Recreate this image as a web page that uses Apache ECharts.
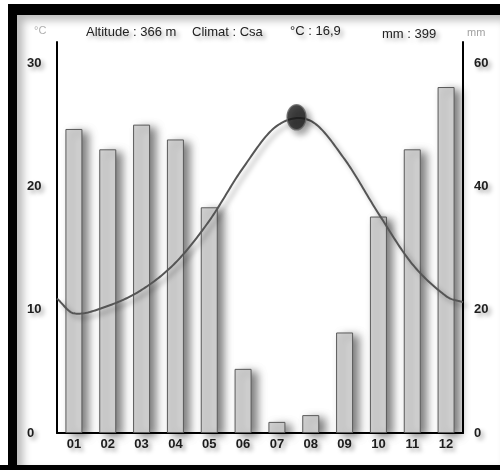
<!DOCTYPE html>
<html>
<head>
<meta charset="utf-8">
<script src="https://cdn.jsdelivr.net/npm/echarts@6/dist/echarts.min.js"></script>
<style>
  html, body { margin: 0; padding: 0; background: #fff; }
  #wrap { position: relative; width: 500px; height: 470px; overflow: hidden; background: #fff; }
  #chart { position: absolute; left: 0; top: 0; width: 500px; height: 470px; }
  #shade { position: absolute; left: 17px; top: 15px; width: 483px; height: 450px;
           box-shadow: inset 6px 5px 8px rgba(0,0,0,0.28); pointer-events: none; }
  .frame { position: absolute; background: #000; }
</style>
</head>
<body>
<div id="wrap">
  <div id="chart"></div>
  <div id="shade"></div>
  <div class="frame" style="left:8px;top:4px;width:492px;height:11px"></div>
  <div class="frame" style="left:8px;top:4px;width:9px;height:466px"></div>
  <div class="frame" style="left:0;top:465px;width:500px;height:5px"></div>
</div>
<script>
// Climate diagram: monthly precipitation (bars, mm) and mean temperature (curve, °C)
const months = ['01', '02', '03', '04', '05', '06', '07', '08', '09', '10', '11', '12'];
const precipitation = [49.3, 46.0, 50.0, 47.6, 36.6, 10.4, 1.8, 2.9, 16.3, 35.1, 46.0, 56.1];
const temperature = [9.7, 10.3, 11.6, 13.8, 17.2, 21.5, 24.9, 25.3, 22.2, 17.8, 13.7, 11.1];
// curve values at the left and right plot edges (winter wrap-around)
const tempEdges = [10.9, 10.6];
// yearly maximum of the temperature curve: [month position, °C]
const tempPeak = [7.58, 25.6];
const tempTicks = [0, 10, 20, 30];
const precTicks = [0, 20, 40, 60];
const headerTexts = ['Altitude : 366 m', 'Climat : Csa', '°C : 16,9', 'mm : 399'];
const unitTexts = ['°C', 'mm'];

const lineData = [[0.5, tempEdges[0]]]
  .concat(temperature.map((t, i) => [i + 1, t]))
  .concat([[12.5, tempEdges[1]]]);

// cubic Hermite curve through the points (finite-difference tangents), sampled for drawing
function hermitePath(pts, steps) {
  const n = pts.length;
  const m = pts.map((p, i) => {
    if (i === 0) return (pts[1][1] - p[1]) / (pts[1][0] - p[0]);
    if (i === n - 1) return (p[1] - pts[i - 1][1]) / (p[0] - pts[i - 1][0]);
    return (pts[i + 1][1] - pts[i - 1][1]) / (pts[i + 1][0] - pts[i - 1][0]);
  });
  const out = [];
  for (let i = 0; i < n - 1; i++) {
    const [x0, y0] = pts[i], [x1, y1] = pts[i + 1];
    const h = x1 - x0;
    for (let s = 0; s < steps; s++) {
      const t = s / steps, t2 = t * t, t3 = t2 * t;
      const y = (2 * t3 - 3 * t2 + 1) * y0 + (t3 - 2 * t2 + t) * h * m[i] +
                (-2 * t3 + 3 * t2) * y1 + (t3 - t2) * h * m[i + 1];
      out.push([x0 + t * h, y]);
    }
  }
  out.push(pts[n - 1]);
  return out;
}

const shadowText = {
  textShadowColor: 'rgba(0,0,0,0.35)',
  textShadowBlur: 4,
  textShadowOffsetX: 3,
  textShadowOffsetY: 3
};
const tickFont = Object.assign({
  color: '#1e1e1e', fontSize: 13, fontWeight: 'bold',
  fontFamily: 'Liberation Sans, sans-serif'
}, shadowText);
const headFont = Object.assign({
  color: '#222', fontSize: 13, fontWeight: 'normal',
  fontFamily: 'Liberation Sans, sans-serif'
}, shadowText);

const headerPos = [[86, 26], [192, 26], [290, 25], [382, 28]];
const titles = headerTexts.map((t, i) => ({
  text: t, left: headerPos[i][0], top: headerPos[i][1], padding: 0,
  textStyle: headFont
}));
titles.push({ text: unitTexts[0], left: 34, top: 25, padding: 0,
  textStyle: { color: '#b0b0b0', fontSize: 11, fontWeight: 'normal', fontFamily: 'Liberation Sans, sans-serif' } });
titles.push({ text: unitTexts[1], left: 467, top: 27, padding: 0,
  textStyle: { color: '#a0a0a0', fontSize: 11, fontWeight: 'normal', fontFamily: 'Liberation Sans, sans-serif' } });

const chart = echarts.init(document.getElementById('chart'), null, { renderer: 'canvas' });
chart.setOption({
  backgroundColor: '#fff',
  animation: false,
  title: titles,
  grid: { left: 57, right: 37, top: 42, bottom: 37 },
  xAxis: [
    {
      type: 'category', data: months, boundaryGap: true,
      axisLine: { lineStyle: { color: '#000', width: 2 } },
      axisTick: { show: false },
      axisLabel: Object.assign({ margin: 5 }, tickFont)
    },
    { type: 'value', min: 0.5, max: 12.5, show: false }
  ],
  yAxis: [
    {
      type: 'value', min: 0, max: 31.7, interval: 10,
      axisLine: { show: true, lineStyle: { color: '#000', width: 2 } },
      axisTick: { show: false }, splitLine: { show: false },
      axisLabel: Object.assign({
        align: 'left', margin: 30,
        formatter: v => (tempTicks.indexOf(v) >= 0 ? String(v) : '')
      }, tickFont)
    },
    {
      type: 'value', min: 0, max: 63.4, interval: 20, position: 'right',
      axisLine: { show: true, lineStyle: { color: '#000', width: 2 } },
      axisTick: { show: false }, splitLine: { show: false },
      axisLabel: Object.assign({
        align: 'left', margin: 11,
        formatter: v => (precTicks.indexOf(v) >= 0 ? String(v) : '')
      }, tickFont)
    }
  ],
  series: [
    {
      type: 'bar', xAxisIndex: 0, yAxisIndex: 1, data: precipitation,
      barWidth: 17, z: 2,
      itemStyle: {
        color: '#d2d2d2', borderColor: '#5a5a5a', borderWidth: 1,
        shadowColor: 'rgba(0,0,0,0.5)', shadowBlur: 8, shadowOffsetX: 6, shadowOffsetY: 3
      }
    },
    {
      type: 'custom', xAxisIndex: 1, yAxisIndex: 0, data: lineData, z: 3,
      renderItem: function (params, api) {
        if (params.dataIndex !== 0) return null;
        const pts = hermitePath(lineData, 24).map(p => api.coord(p));
        return {
          type: 'polyline',
          shape: { points: pts },
          style: {
            fill: null, stroke: '#555', lineWidth: 2,
            shadowColor: 'rgba(0,0,0,0.35)', shadowBlur: 5, shadowOffsetX: 4, shadowOffsetY: 4
          }
        };
      }
    },
    {
      type: 'scatter', xAxisIndex: 1, yAxisIndex: 0, data: [tempPeak],
      symbol: 'circle', symbolSize: [19, 25], z: 4,
      itemStyle: {
        color: '#1c1c1c', borderColor: '#666', borderWidth: 1.5,
        shadowColor: 'rgba(0,0,0,0.45)', shadowBlur: 6, shadowOffsetX: 4, shadowOffsetY: 4
      }
    }
  ]
});
</script>
</body>
</html>
